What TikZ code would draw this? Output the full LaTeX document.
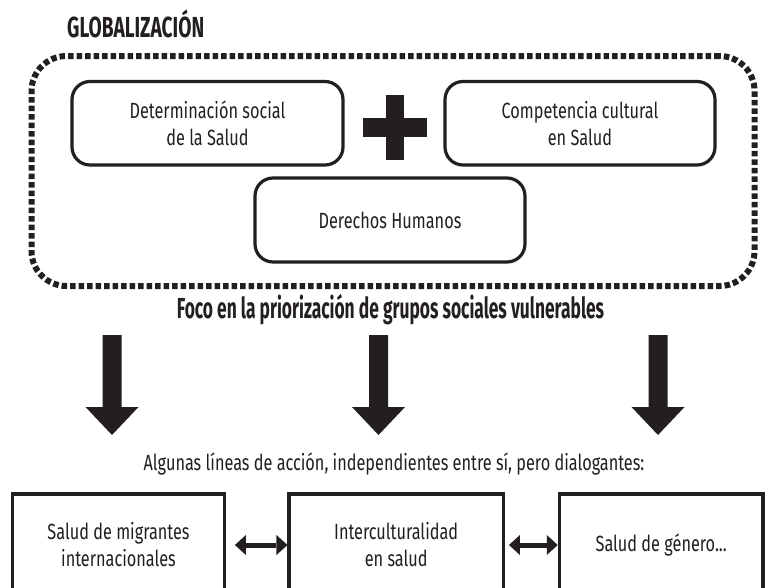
\documentclass[tikz,border=0pt]{standalone}
\usepackage{fontspec}
\setmainfont[FakeStretch=0.74]{Fira Sans}
\newfontfamily\headfont[FakeStretch=0.6]{Fira Sans}
\newfontfamily\capfont[FakeStretch=0.66]{Fira Sans}
\usetikzlibrary{arrows.meta}
\definecolor{ink}{RGB}{35,31,32}
\tikzset{
  bodyfont/.style={font=\fontsize{22}{27}\selectfont, text=ink},
  headtext/.style={font=\headfont\bfseries\fontsize{29}{34}\selectfont, text=ink, inner sep=0pt},
  captext/.style={font=\capfont\bfseries\fontsize{29}{34}\selectfont, text=ink, inner sep=0pt},
  roundbox/.style={draw=ink, line width=3.2pt, rounded corners=18pt, minimum width=271pt,
    minimum height=83.5pt, align=center, inner sep=0pt, bodyfont},
  sqbox/.style={draw=ink, line width=3.2pt, minimum height=102pt, align=center, inner sep=0pt, bodyfont},
  frame/.style={draw=ink, line width=6pt, dash pattern=on 5.5pt off 3pt, rounded corners=35pt},
  dbl/.style={draw=ink, line width=5pt,
    {Triangle[length=11pt,width=20pt,line width=0pt]}-{Triangle[length=11pt,width=20pt,line width=0pt]}},
  bigarrow/.pic={\fill[ink] (-9.5,0) -- (9.5,0) -- (9.5,72) -- (26.5,72) -- (0,100)
    -- (-26.5,72) -- (-9.5,72) -- cycle;}
}
\begin{document}
\begin{tikzpicture}[x=1pt,y=-1pt]
\useasboundingbox (0,0) rectangle (768,587);
\clip (0,0) rectangle (768,587);
\fill[white] (0,0) rectangle (768,587);

% heading
\node[captext, anchor=base west] (glob) at (67,37) {GLOBALIZACIÓN};

% dotted frame
\node[frame, minimum width=723pt, minimum height=230pt] (fr) at (393,171) {};

% inner boxes
\node[roundbox] (det) at (207.5,123.25) {Determinación social\\de la Salud};
\node[roundbox, minimum width=270pt] (comp) at (580,123.25) {Competencia cultural\\en Salud};
\node[roundbox, minimum width=270pt, minimum height=84pt] (dh) at (390,220) {Derechos Humanos};

% plus sign
\coordinate (plus) at (395,127.5);
\fill[ink] ([xshift=-32pt,yshift=-9.5pt]plus) rectangle ([xshift=32pt,yshift=9.5pt]plus);
\fill[ink] ([xshift=-9pt,yshift=-32.5pt]plus) rectangle ([xshift=9pt,yshift=32.5pt]plus);

% focus text
\node[headtext, anchor=base] (foco) at (390.5,318) {Foco en la priorización de grupos sociales vulnerables};

% big arrows
\pic at (112,335) {bigarrow};
\pic at (378.5,335) {bigarrow};
\pic at (658,335) {bigarrow};

% lines of action text
\node[bodyfont, anchor=base, inner sep=0pt] (alg) at (394,470) {Algunas líneas de acción, independientes entre sí, pero dialogantes:};

% bottom boxes
\node[sqbox, minimum width=211.6pt] (mig) at (118.5,545) {Salud de migrantes\\internacionales};
\node[sqbox, minimum width=214.3pt] (inter) at (396.2,545) {Interculturalidad\\en salud};
\node[sqbox, minimum width=203.7pt] (gen) at (661.2,545) {Salud de género...};

% double arrows
\draw[dbl] ([xshift=9pt]mig.east) -- (inter.west);
\draw[dbl] ([xshift=4pt]inter.east) -- (gen.west);
\end{tikzpicture}
\end{document}
